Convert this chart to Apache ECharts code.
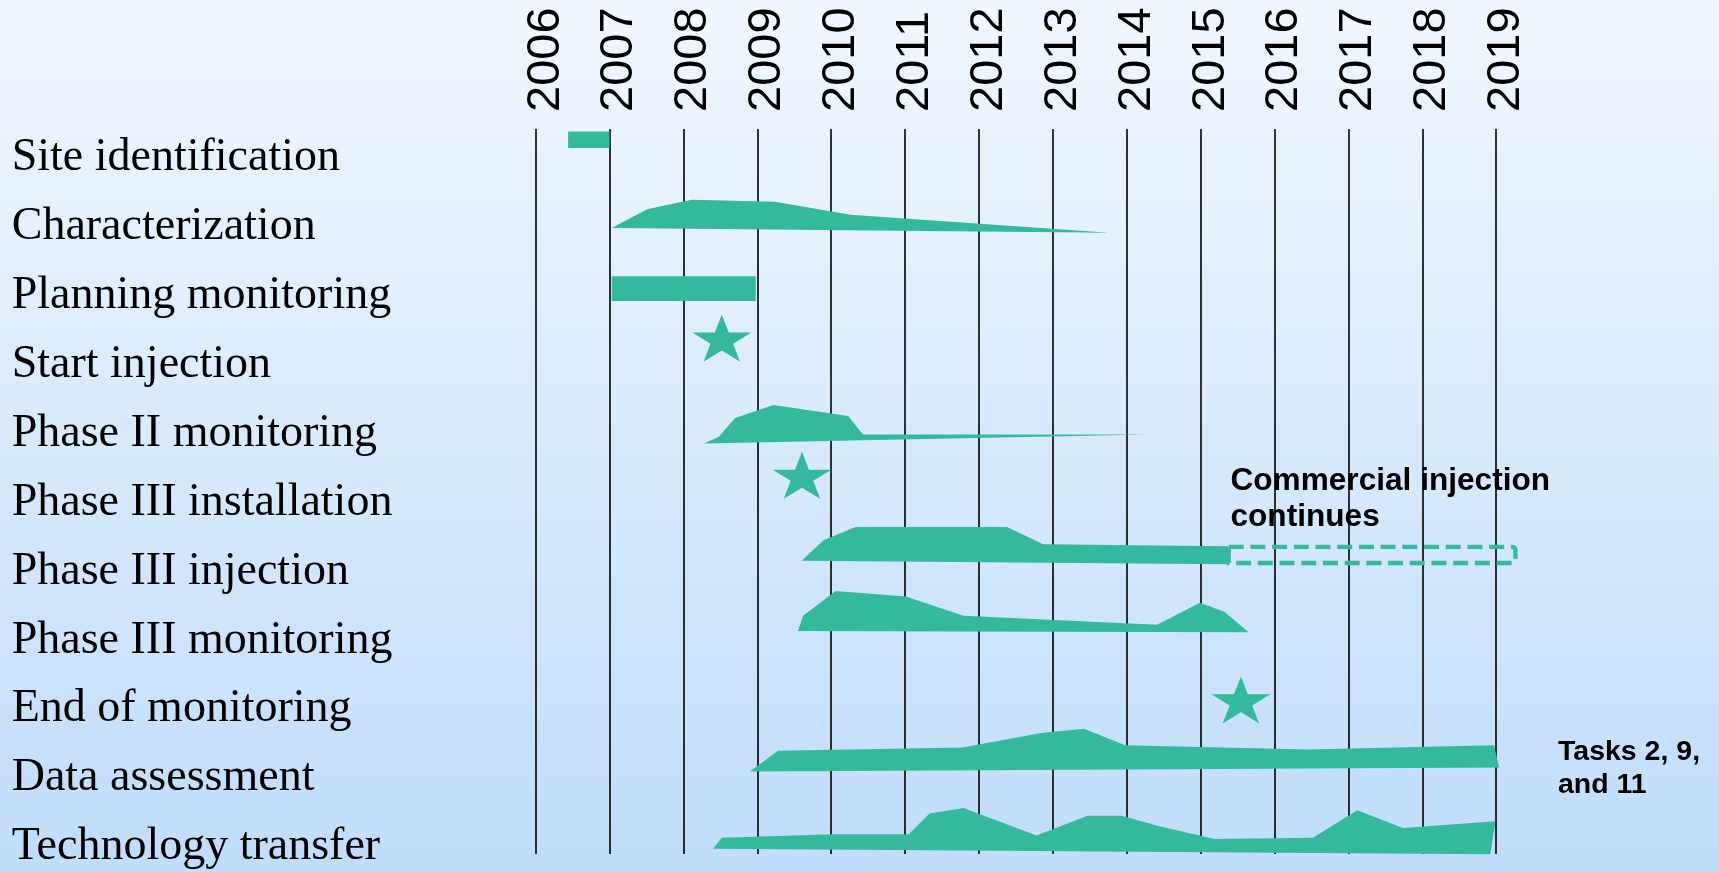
<!DOCTYPE html>
<html>
<head>
<meta charset="utf-8">
<script src="https://cdn.jsdelivr.net/npm/echarts@6/dist/echarts.min.js"></script>
<style>
html, body { margin: 0; padding: 0; overflow: hidden; }
#chart { width: 1719px; height: 872px; }
</style>
</head>
<body>
<div id="chart"></div>
<script>
// Task rows, listed top to bottom
const tasks = [
  'Site identification',
  'Characterization',
  'Planning monitoring',
  'Start injection',
  'Phase II monitoring',
  'Phase III installation',
  'Phase III injection',
  'Phase III monitoring',
  'End of monitoring',
  'Data assessment',
  'Technology transfer'
];

// Year scale
const firstYear = 2006;
const lastYear = 2019;

// Activity outlines: [year, height above the row centre in row heights]
const siteIdentification = [[2006.44, 0.33], [2007.0, 0.33], [2007.0, 0.09], [2006.44, 0.09]];
const characterization = [[2007.03, -0.07], [2007.51, 0.20], [2008.11, 0.34], [2009.24, 0.31], [2010.26, 0.12], [2013.77, -0.14]];
const planningMonitoring = [[2007.03, 0.23], [2008.98, 0.23], [2008.98, -0.13], [2007.03, -0.13]];
const phase2Monitoring = [[2008.28, -0.20], [2008.48, -0.10], [2008.70, 0.17], [2009.22, 0.36], [2010.23, 0.20], [2010.43, -0.07], [2014.29, -0.07]];
const phase3Injection = [[2009.60, 0.10], [2009.90, 0.40], [2010.33, 0.59], [2012.38, 0.59], [2012.87, 0.34], [2015.38, 0.31], [2015.38, 0.05]];
const phase3Monitoring = [[2009.55, 0.08], [2009.62, 0.30], [2010.06, 0.66], [2011.01, 0.58], [2011.79, 0.30], [2014.41, 0.17], [2014.99, 0.49], [2015.32, 0.36], [2015.65, 0.06]];
const dataAssessment = [[2008.90, 0.04], [2009.28, 0.34], [2011.78, 0.39], [2012.84, 0.60], [2013.42, 0.66], [2013.98, 0.42], [2016.45, 0.36], [2018.97, 0.42], [2019.04, 0.10]];
const technologyTransfer = [[2008.40, -0.08], [2008.52, 0.08], [2010.01, 0.13], [2011.05, 0.13], [2011.33, 0.43], [2011.79, 0.51], [2012.78, 0.11], [2013.47, 0.40], [2013.93, 0.40], [2014.43, 0.25], [2015.19, 0.06], [2016.52, 0.08], [2017.12, 0.48], [2017.74, 0.22], [2018.99, 0.32], [2018.92, -0.16]];

const activityRows = [0, 1, 2, 4, 6, 7, 9, 10];
const activityOutlines = [siteIdentification, characterization, planningMonitoring, phase2Monitoring,
  phase3Injection, phase3Monitoring, dataAssessment, technologyTransfer];

// Milestones (stars)
const milestoneYears = [2008.52, 2009.605, 2015.545];
const milestoneRows = [3, 5, 8];
const milestoneLift = [0.33, 0.34, 0.08];

// Commercial injection continuation (dashed box)
const continuationYears = [2015.38, 2019.26];
const continuationRow = 6;
const continuationLift = [0.30, 0.067];

const TEAL = '#34b99c';
const STAR = 'M95.1,0 L117.55,69.1 L190.2,69.1 L131.4,111.8 L153.9,180.9 L95.1,138.2 L36.3,180.9 L58.8,111.8 L0,69.1 L72.65,69.1 Z';
const GRID_LEFT = 535.6;
const GRID_RIGHT = 222.8;

function rowHeight(api) {
  return api.coord([firstYear, 1])[1] - api.coord([firstYear, 0])[1];
}

const chart = echarts.init(document.getElementById('chart'), null, { renderer: 'canvas' });

chart.setOption({
  backgroundColor: new echarts.graphic.LinearGradient(0, 0, 0, 1, [
    { offset: 0, color: '#f1f7fe' },
    { offset: 1, color: '#c0ddfb' }
  ]),
  animation: false,
  grid: [
    { left: GRID_LEFT, right: GRID_RIGHT, top: 129, bottom: 18, containLabel: false, outerBoundsMode: 'none' },
    { left: GRID_LEFT, right: GRID_RIGHT, top: 119.75, height: 757.9, containLabel: false, outerBoundsMode: 'none' }
  ],
  xAxis: [
    {
      gridIndex: 0, type: 'value', position: 'top',
      min: firstYear, max: lastYear, interval: 1,
      axisLine: { show: false }, axisTick: { show: false },
      splitLine: { show: true, lineStyle: { color: '#000', width: 1.6 } },
      axisLabel: {
        rotate: 90, margin: 17, color: '#000',
        fontFamily: 'Liberation Sans', fontSize: 47,
        // line box anchored at its top so the digits sit just right of each year line
        verticalAlign: 'top', lineHeight: 20,
        formatter: v => String(v)
      }
    },
    {
      gridIndex: 1, type: 'value', min: firstYear, max: lastYear, show: false
    }
  ],
  yAxis: [
    { gridIndex: 0, type: 'value', min: 0, max: 1, show: false },
    {
      gridIndex: 1, type: 'category', data: tasks, inverse: true,
      axisLine: { show: false }, axisTick: { show: false }, splitLine: { show: false },
      axisLabel: {
        align: 'left', margin: GRID_LEFT - 11.7, color: '#000',
        fontFamily: 'Liberation Serif', fontSize: 46,
        verticalAlign: 'top', lineHeight: 8
      }
    }
  ],
  series: [
    {
      name: 'Activities', type: 'custom', xAxisIndex: 1, yAxisIndex: 1,
      data: activityRows.map(r => [firstYear, r]),
      renderItem: function (params, api) {
        const row = activityRows[params.dataIndex];
        const outline = activityOutlines[params.dataIndex];
        const h = rowHeight(api);
        const points = outline.map(([yr, lift]) => {
          const p = api.coord([yr, row]);
          return [p[0], p[1] - lift * h];
        });
        return { type: 'polygon', shape: { points: points }, style: { fill: TEAL } };
      }
    },
    {
      name: 'Continuation', type: 'custom', xAxisIndex: 1, yAxisIndex: 1,
      data: [[continuationYears[0], continuationRow]],
      renderItem: function (params, api) {
        const h = rowHeight(api);
        const a = api.coord([continuationYears[0], continuationRow]);
        const b = api.coord([continuationYears[1], continuationRow]);
        const top = a[1] - continuationLift[0] * h;
        const bottom = a[1] - continuationLift[1] * h;
        return {
          type: 'rect',
          shape: { x: a[0], y: top, width: b[0] - a[0], height: bottom - top, r: [0, 3, 3, 0] },
          style: { fill: 'none', stroke: TEAL, lineWidth: 4.3, lineDash: [15, 6.7] }
        };
      }
    },
    {
      name: 'Milestones', type: 'custom', xAxisIndex: 1, yAxisIndex: 1,
      data: milestoneYears.map((y, i) => [y, milestoneRows[i]]),
      renderItem: function (params, api) {
        const i = params.dataIndex;
        const h = rowHeight(api);
        const p = api.coord([milestoneYears[i], milestoneRows[i]]);
        const w = 59, sh = 47;
        const cy = p[1] - milestoneLift[i] * h;
        return {
          type: 'path',
          shape: { pathData: STAR, layout: 'cover', x: p[0] - w / 2, y: cy - sh / 2, width: w, height: sh },
          style: { fill: TEAL }
        };
      }
    }
  ],
  graphic: [
    {
      type: 'text', left: 1230.5, top: 462.7,
      style: {
        text: 'Commercial injection\ncontinues',
        font: 'bold 31.6px "Liberation Sans"', lineHeight: 36.6, fill: '#000'
      }
    },
    {
      type: 'text', left: 1558, top: 735.9,
      style: {
        text: 'Tasks 2, 9,\nand 11',
        font: 'bold 28.5px "Liberation Sans"', lineHeight: 33, fill: '#000'
      }
    }
  ]
});
</script>
</body>
</html>
